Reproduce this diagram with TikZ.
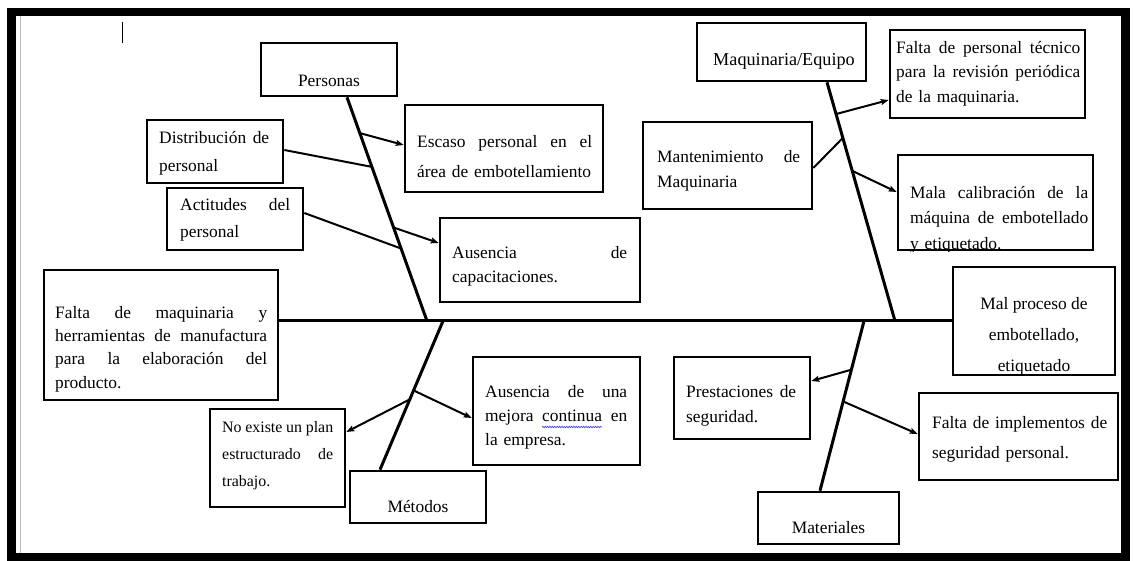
\documentclass[tikz,border=0pt]{standalone}
\usepackage{fontspec}
\setmainfont{Liberation Serif}
\usetikzlibrary{arrows.meta,calc,decorations.pathmorphing}
\newcommand\jl[2]{\makebox[#1][s]{\spaceskip=0pt\xspaceskip=0pt\relax #2}}
\newcommand\tp{\rule{0pt}{13pt}}
\begin{document}
\begin{tikzpicture}[x=1pt,y=-1pt,
  box/.style={draw, line width=2.6pt, rectangle, inner sep=0pt},
  txt/.style={inner sep=0pt, align=left, anchor=north west},
  ctxt/.style={inner sep=0pt, align=center, anchor=north},
  fs/.style={font=\fontsize{17.4}{#1}\selectfont},
  bone/.style={line width=3pt},
  branch/.style={line width=2pt},
  arr/.style={branch, -{Stealth[length=8pt,width=6pt,inset=1.5pt]}}]
\useasboundingbox (0,0) rectangle (1133,561);
% frame
\draw[line width=8.5pt] (11.5,12) rectangle (1125.5,557);
\draw[black!25, line width=1pt] (20,16) -- (20,553);
\draw[line width=1pt] (122,22) -- (122,43);

% boxes
\node[box, minimum width=136pt, minimum height=53pt] (per) at (329,69.5) {};
\node[box, minimum width=136pt, minimum height=63pt] (dis) at (215,151.5) {};
\node[box, minimum width=136pt, minimum height=62pt] (act) at (235,219) {};
\node[box, minimum width=234pt, minimum height=130pt] (maq) at (161,335) {};
\node[box, minimum width=135pt, minimum height=98pt] (noe) at (277.5,458) {};
\node[box, minimum width=136pt, minimum height=52pt] (met) at (418,497) {};
\node[box, minimum width=198pt, minimum height=87pt] (esc) at (504,148.5) {};
\node[box, minimum width=200pt, minimum height=84pt] (cap) at (540,260) {};
\node[box, minimum width=167pt, minimum height=108pt] (mej) at (556.5,411) {};
\node[box, minimum width=136pt, minimum height=82pt] (pre) at (742,398) {};
\node[box, minimum width=141pt, minimum height=52pt] (mat) at (828.5,518) {};
\node[box, minimum width=169pt, minimum height=58pt] (equ) at (781.5,52) {};
\node[box, minimum width=169pt, minimum height=87pt] (man) at (727.5,165.5) {};
\node[box, minimum width=195pt, minimum height=88pt] (tec) at (987.5,74) {};
\node[box, minimum width=195pt, minimum height=95pt] (mala) at (995.5,202.5) {};
\node[box, minimum width=162pt, minimum height=108pt] (mal) at (1034,321) {};
\node[box, minimum width=199pt, minimum height=87pt] (imp) at (1018.5,436.5) {};

% texts
\node[ctxt, fs=26] (per-t) at (329,73) {\tp Personas};
\node[txt, fs=28, text width=110pt] (dis-t) at (159,130) {\tp\jl{110pt}{Distribución de}\\personal};
\node[txt, fs=27, text width=110pt] (act-t) at (180,197) {\tp\jl{110pt}{Actitudes del}\\personal};
\node[txt, fs=23.4, text width=212pt] (maq-t) at (55,305) {\tp\jl{212pt}{Falta de maquinaria y}\\\jl{212pt}{herramientas de manufactura}\\\jl{212pt}{para la elaboración del}\\producto.};
\node[txt, font=\fontsize{15.9}{27}\selectfont, text width=111pt] (noe-t) at (222,419) {\tp\jl{111pt}{No existe un plan}\\\jl{111pt}{estructurado de}\\trabajo.};
\node[ctxt, fs=26] (met-t) at (418,499) {\tp Métodos};
\node[txt, fs=30, text width=175pt] (esc-t) at (417,134) {\tp\jl{175pt}{Escaso personal en el}\\área de embotellamiento};
\node[txt, fs=24, text width=175pt] (cap-t) at (452,245) {\tp\jl{175pt}{Ausencia de}\\capacitaciones.};
\node[txt, fs=24, text width=142pt] (mej-t) at (485,384) {\tp\jl{142pt}{Ausencia de una}\\\jl{142pt}{mejora continua en}\\la empresa.};
\node[txt, fs=25, text width=110pt] (pre-t) at (686,384) {\tp\jl{110pt}{Prestaciones de}\\seguridad.};
\node[ctxt, fs=26] (mat-t) at (828.5,520) {\tp Materiales};
\node[ctxt, font=\fontsize{18.2}{26}\selectfont] (equ-t) at (784,52) {\tp Maquinaria/Equipo};
\node[txt, fs=25, text width=143pt] (man-t) at (657,149) {\tp\jl{143pt}{Mantenimiento de}\\Maquinaria};
\node[txt, fs=24.5, text width=184pt] (tec-t) at (896,40) {\tp\jl{184pt}{Falta de personal técnico}\\\jl{184pt}{para la revisión periódica}\\de la maquinaria.};
\begin{scope}
  \clip (mala.north west) rectangle (mala.south east);
  \node[txt, fs=25.5, text width=178pt] (mala-t) at (910,185) {\tp\jl{178pt}{Mala calibración de la}\\\jl{178pt}{máquina de embotellado}\\y etiquetado.};
\end{scope}
\begin{scope}
  \clip (mal.north west) rectangle (mal.south east);
  \node[ctxt, fs=31] (mal-t) at (1034,296) {\tp Mal proceso de\\embotellado,\\etiquetado};
\end{scope}
\node[txt, fs=30, text width=175pt] (imp-t) at (932,415) {\tp\jl{175pt}{Falta de implementos de}\\seguridad personal.};

% spell-check underline
\draw[blue!75, line width=0.7pt, decorate, decoration={snake,amplitude=0.6pt,segment length=2.4pt}] (542,427) -- (602,427);

% spine
\draw[bone] ([yshift=14pt]maq.east) -- (mal.west);

% Personas bone
\coordinate (pA) at ([xshift=18pt]per.south);
\coordinate (pB) at (427,321);
\draw[bone] (pA) -- (pB);
\coordinate (p1) at ($(pA)!0.16!(pB)$);
\coordinate (p2) at ($(pA)!0.311!(pB)$);
\coordinate (p3) at ($(pA)!0.582!(pB)$);
\coordinate (p4) at ($(pA)!0.676!(pB)$);
\draw[arr] (p1) -- ([yshift=3.5pt]esc.west);
\draw[branch] ([yshift=1.5pt]dis.east) -- (p2);
\draw[arr] (p3) -- ([yshift=17pt]cap.west);
\draw[branch] ([yshift=6pt]act.east) -- (p4);

% Metodos bone
\coordinate (mA) at (443,321);
\coordinate (mB) at ([xshift=-38pt]met.north);
\draw[bone] (mA) -- (mB);
\coordinate (m1) at ($(mA)!0.467!(mB)$);
\coordinate (m2) at ($(mA)!0.527!(mB)$);
\draw[arr] (m1) -- ([yshift=-7pt]mej.west);
\draw[arr] (m2) -- ([yshift=26pt]noe.east);

% Maquinaria bone
\coordinate (qA) at ([xshift=45.5pt]equ.south);
\coordinate (qB) at (895,321);
\draw[bone] (qA) -- (qB);
\coordinate (q1) at ($(qA)!0.133!(qB)$);
\coordinate (q2) at ($(qA)!0.233!(qB)$);
\coordinate (q3) at ($(qA)!0.371!(qB)$);
\draw[arr] (q1) -- ([yshift=-26pt]tec.west);
\draw[branch] ([yshift=-2.5pt]man.east) -- (q2);
\draw[arr] (q3) -- ([yshift=10.5pt]mala.west);

% Materiales bone
\coordinate (tA) at (864,321);
\coordinate (tB) at ([xshift=-8.5pt]mat.north);
\draw[bone] (tA) -- (tB);
\coordinate (t1) at ($(tA)!0.287!(tB)$);
\coordinate (t2) at ($(tA)!0.474!(tB)$);
\draw[arr] (t1) -- ([yshift=17pt]pre.east);
\draw[arr] (t2) -- ([yshift=2.5pt]imp.west);
\end{tikzpicture}
\end{document}
